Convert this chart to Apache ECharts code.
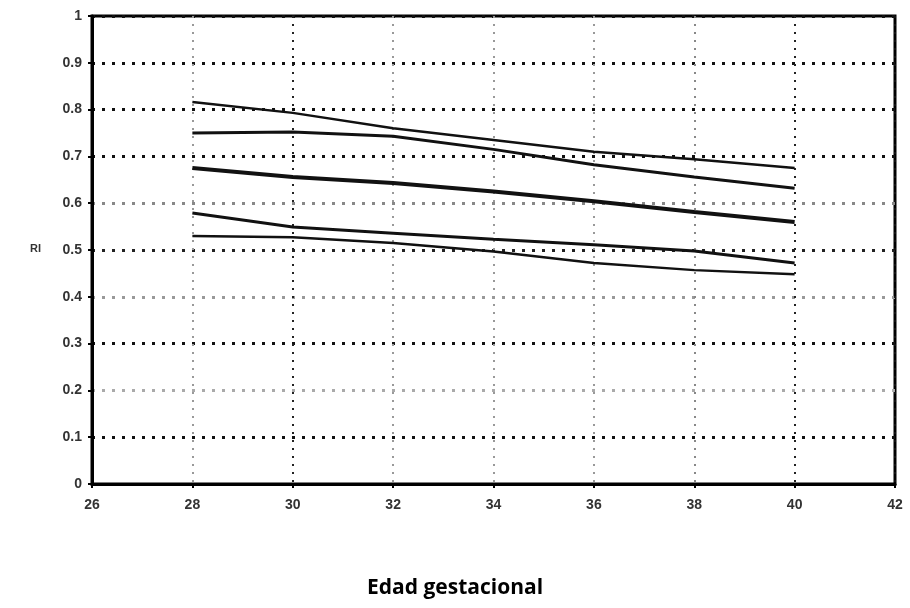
<!DOCTYPE html>
<html><head><meta charset="utf-8">
<script src="https://cdn.jsdelivr.net/npm/echarts@6/dist/echarts.min.js"></script>
<style>html,body{margin:0;padding:0;background:#fff}#c{width:910px;height:608px}</style>
</head><body><div id="c"></div>
<script>
const ages = [28, 30, 32, 34, 36, 38, 40];
const curve1 = [0.816, 0.793, 0.760, 0.735, 0.710, 0.694, 0.675];
const curve2 = [0.750, 0.752, 0.743, 0.715, 0.682, 0.656, 0.632];
const curve3 = [0.675, 0.656, 0.643, 0.625, 0.604, 0.581, 0.560];
const curve4 = [0.579, 0.549, 0.536, 0.523, 0.511, 0.498, 0.472];
const curve5 = [0.530, 0.527, 0.515, 0.497, 0.472, 0.457, 0.448];
const yGridColors = ['#111','#111','#aaa','#111','#999','#222','#888','#111','#111','#111','#111'];
const xGridColors = ['#111','#999','#222','#999','#999','#999','#888','#222','#111'];
const xTitle = 'Edad gestacional';
const yTitle = 'RI';

const chart = echarts.init(document.getElementById('c'));
function mk(vals, w) {
  return { type: 'line', data: ages.map((a, i) => [a, vals[i]]), symbol: 'none',
    lineStyle: { color: '#111', width: w }, z: 5 };
}
chart.setOption({
  animation: false,
  grid: { left: 92, right: 15, top: 16, bottom: 124, show: true, borderColor: '#000', borderWidth: 3 },
  graphic: [
    { type: 'text', left: 'center', top: 578, style: { text: xTitle, fontFamily: 'Open Sans', fontWeight: 'bold', fontSize: 21, fill: '#000' } },
    { type: 'text', left: 30, top: 243, style: { text: yTitle, fontFamily: 'Liberation Sans', fontWeight: 'bold', fontSize: 11, fill: '#333' } }
  ],
  xAxis: {
    type: 'value', min: 26, max: 42, interval: 2,
    axisLine: { show: true, lineStyle: { color: '#000', width: 3 } },
    axisTick: { show: true, length: 4, lineStyle: { color: '#000', width: 2 } },
    axisLabel: { color: '#333', fontFamily: 'Liberation Sans', fontWeight: 'bold', fontSize: 14, margin: 14 },
    splitLine: { show: true, lineStyle: { color: xGridColors, width: 2, type: [2, 6] } }
  },
  yAxis: {
    type: 'value', min: 0, max: 1, interval: 0.1,
    axisLine: { show: true, lineStyle: { color: '#000', width: 3 } },
    axisTick: { show: true, length: 4, lineStyle: { color: '#000', width: 2 } },
    axisLabel: { color: '#333', fontFamily: 'Liberation Sans', fontWeight: 'bold', fontSize: 14, margin: 10,
      formatter: v => String(Math.round(v * 10) / 10) },
    splitLine: { show: true, lineStyle: { color: yGridColors, width: 3, type: [3, 7] } }
  },
  series: [mk(curve1, 2.5), mk(curve2, 3), mk(curve3, 4), mk(curve4, 3), mk(curve5, 2.5)]
});
</script></body></html>
